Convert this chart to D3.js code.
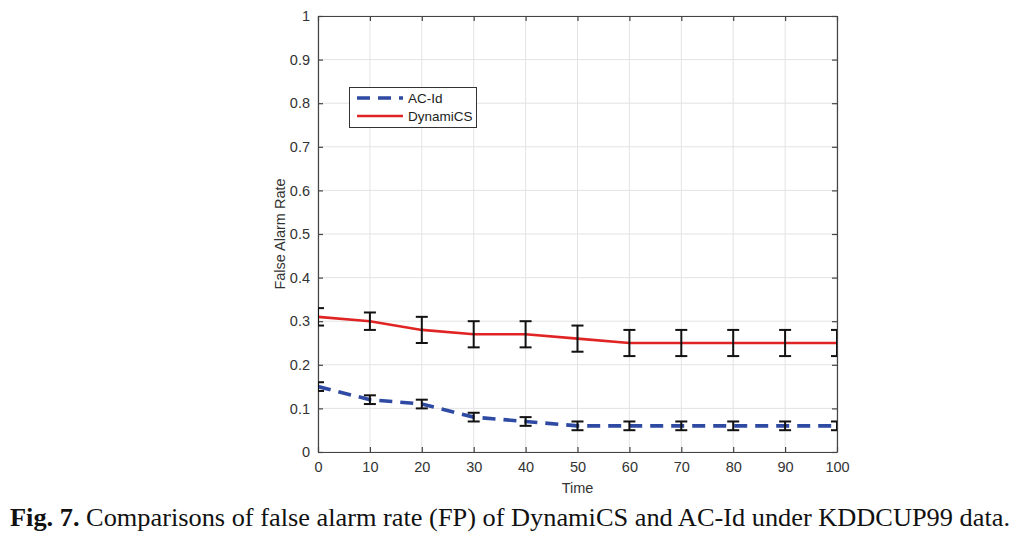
<!DOCTYPE html>
<html><head><meta charset="utf-8">
<script src="https://cdn.jsdelivr.net/npm/d3@7"></script>
<style>body{margin:0;background:#fff}svg{display:block}</style>
</head><body>
<svg id="c" width="1026" height="537"></svg>
<script>
const times = [0,10,20,30,40,50,60,70,80,90,100];
const acId = [0.15,0.12,0.11,0.08,0.07,0.06,0.06,0.06,0.06,0.06,0.06];
const acIdErr = [0.01,0.01,0.01,0.01,0.01,0.01,0.01,0.01,0.01,0.01,0.01];
const dyn = [0.31,0.30,0.28,0.27,0.27,0.26,0.25,0.25,0.25,0.25,0.25];
const dynErr = [0.02,0.02,0.03,0.03,0.03,0.03,0.03,0.03,0.03,0.03,0.03];
const xTicks = [0,10,20,30,40,50,60,70,80,90,100];
const yTicks = [0,0.1,0.2,0.3,0.4,0.5,0.6,0.7,0.8,0.9,1];
const yTickLabels = ["0","0.1","0.2","0.3","0.4","0.5","0.6","0.7","0.8","0.9","1"];
const seriesNames = ["AC-Id","DynamiCS"];

const svg = d3.select("#c");
const L=318, R=837, T=16, B=452;
const x = d3.scaleLinear().domain([0,100]).range([L,R]);
const y = d3.scaleLinear().domain([0,1]).range([B,T]);
const font = "Liberation Sans, Arial, sans-serif";

// grid
const g = svg.append("g");
g.selectAll(".gx").data(xTicks).enter().append("line")
 .attr("x1",d=>x(d)).attr("x2",d=>x(d)).attr("y1",T).attr("y2",B)
 .attr("stroke","#e3e3e3").attr("stroke-width",1);
g.selectAll(".gy").data(yTicks).enter().append("line")
 .attr("y1",d=>y(d)).attr("y2",d=>y(d)).attr("x1",L).attr("x2",R)
 .attr("stroke","#e3e3e3").attr("stroke-width",1);

// axes
const axB = svg.append("g").attr("transform",`translate(0,${B})`)
 .call(d3.axisBottom(x).tickValues(xTicks).tickSizeInner(-5).tickSizeOuter(0).tickPadding(10));
const axL = svg.append("g").attr("transform",`translate(${L},0)`)
 .call(d3.axisLeft(y).tickValues(yTicks).tickFormat((d,i)=>yTickLabels[i]).tickSizeInner(-5).tickSizeOuter(0).tickPadding(8));
const axT = svg.append("g").attr("transform",`translate(0,${T})`)
 .call(d3.axisTop(x).tickValues(xTicks).tickSizeInner(-5).tickSizeOuter(0).tickFormat(""));
const axR = svg.append("g").attr("transform",`translate(${R},0)`)
 .call(d3.axisRight(y).tickValues(yTicks).tickSizeInner(-5).tickSizeOuter(0).tickFormat(""));
[axB,axL,axT,axR].forEach(a=>{
  a.selectAll("path.domain").attr("stroke","#444").attr("stroke-width",1.2);
  a.selectAll(".tick line").attr("stroke","#444").attr("stroke-width",1.2);
  a.selectAll("text").attr("font-family",font).attr("font-size",14.5).attr("fill","#333");
});

// lines
const line = d3.line().x((d,i)=>x(times[i])).y(d=>y(d));
const clip = svg.append("clipPath").attr("id","cp").append("rect").attr("x",L).attr("y",T).attr("width",R-L).attr("height",B-T);
svg.append("path").datum(dyn).attr("d",line).attr("fill","none")
 .attr("stroke","#e02424").attr("stroke-width",2.6).attr("clip-path","url(#cp)");
svg.append("path").datum(acId).attr("d",line).attr("fill","none")
 .attr("stroke","#2e4aa3").attr("stroke-width",3.6).attr("stroke-dasharray","13,8").attr("clip-path","url(#cp)");

// error bars
function errBars(vals, errs){
  const eg = svg.append("g").attr("stroke","#111").attr("stroke-width",2).attr("clip-path","url(#cp)");
  vals.forEach((v,i)=>{
    const cx=x(times[i]), y0=y(v-errs[i]), y1=y(v+errs[i]), w=6;
    eg.append("line").attr("x1",cx).attr("x2",cx).attr("y1",y0).attr("y2",y1);
    eg.append("line").attr("x1",cx-w).attr("x2",cx+w).attr("y1",y0).attr("y2",y0);
    eg.append("line").attr("x1",cx-w).attr("x2",cx+w).attr("y1",y1).attr("y2",y1);
  });
}
errBars(dyn,dynErr);
errBars(acId,acIdErr);

// axis labels
svg.append("text").attr("x",(L+R)/2).attr("y",493).attr("text-anchor","middle")
 .attr("font-family",font).attr("font-size",14.5).attr("fill","#333").text("Time");
svg.append("text").attr("transform",`translate(285,${(T+B)/2}) rotate(-90)`).attr("text-anchor","middle")
 .attr("font-family",font).attr("font-size",14.5).attr("fill","#333").text("False Alarm Rate");

// legend
const lg = svg.append("g");
lg.append("rect").attr("x",349.5).attr("y",87.5).attr("width",127).attr("height",40)
 .attr("fill","#fff").attr("stroke","#333").attr("stroke-width",1);
lg.append("line").attr("x1",357).attr("x2",403).attr("y1",98).attr("y2",98)
 .attr("stroke","#2e4aa3").attr("stroke-width",3.6).attr("stroke-dasharray","13,8");
lg.append("line").attr("x1",357).attr("x2",403).attr("y1",116).attr("y2",116)
 .attr("stroke","#e02424").attr("stroke-width",2.6);
lg.selectAll("text").data(seriesNames).enter().append("text")
 .attr("x",408).attr("y",(d,i)=>103+i*18).attr("font-family",font).attr("font-size",13.5).attr("fill","#222").text(d=>d);

// caption
const cap = svg.append("text").attr("x",10).attr("y",526)
 .attr("font-family","Liberation Serif, Times New Roman, serif").attr("font-size",25).attr("fill","#111")
 .attr("textLength",1000).attr("lengthAdjust","spacingAndGlyphs");
cap.append("tspan").attr("font-weight","bold").text("Fig. 7.");
cap.append("tspan").text(" Comparisons of false alarm rate (FP) of DynamiCS and AC-Id under KDDCUP99 data.");
</script>
</body></html>
